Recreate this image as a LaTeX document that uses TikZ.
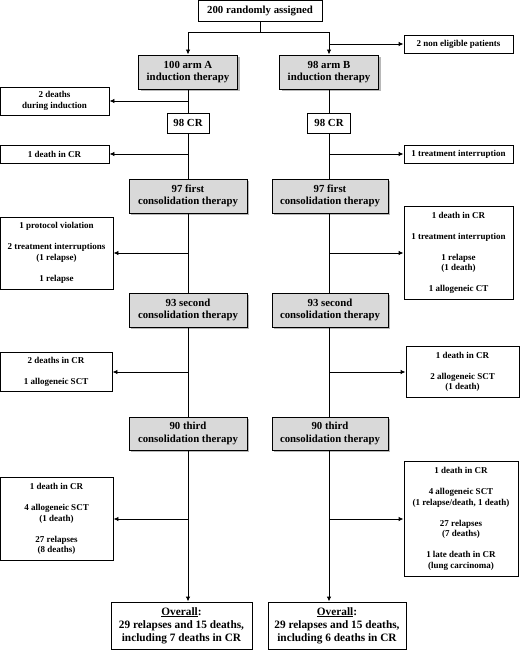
\documentclass[tikz,border=0pt]{standalone}
\usepackage{fontspec}
\setmainfont{Liberation Serif}
\usetikzlibrary{arrows.meta,shadows}
\begin{document}
\begin{tikzpicture}[x=1pt,y=-1pt,
  every node/.style={draw=black,line width=0.9pt,rectangle,inner sep=0pt,align=center,font=\bfseries},
  mainbox/.style={fill=black!15,drop shadow={shadow xshift=2pt,shadow yshift=-2pt,fill=black!35,opacity=0.8},
     font=\fontsize{10.8}{12.6}\selectfont\bfseries},
  sidebox/.style={fill=white,font=\fontsize{9}{10.5}\selectfont\bfseries},
  crbox/.style={fill=white,font=\fontsize{10.8}{12.6}\selectfont\bfseries},
  totbox/.style={fill=white,font=\fontsize{11.3}{13}\selectfont\bfseries},
  conn/.style={draw,line width=0.9pt},
  arr/.style={conn,-{Latex[length=5pt,width=4.5pt]}}]
\useasboundingbox (0,0) rectangle (520,650);
% top
\node[crbox,minimum width=124pt,minimum height=21pt] (top) at (260,10.5) {200 randomly assigned};
\node[mainbox,minimum width=99pt,minimum height=34pt] (armA) at (188,72) {100 arm A\\induction therapy};
\node[mainbox,minimum width=99pt,minimum height=34pt] (armB) at (329,72) {98 arm B\\induction therapy};
\node[sidebox,minimum width=109pt,minimum height=18pt] (nonel) at (458.5,44) {2 non eligible patients};
\node[sidebox,minimum width=109pt,minimum height=28pt] (dind) at (54.5,101) {2 deaths\\during induction};
\node[crbox,minimum width=42pt,minimum height=20pt] (crA) at (188,123) {98 CR};
\node[crbox,minimum width=43pt,minimum height=20pt] (crB) at (329,123) {98 CR};
\node[sidebox,minimum width=109pt,minimum height=18pt] (dcrA) at (54.5,154) {1 death in CR};
\node[sidebox,minimum width=109pt,minimum height=18pt] (tiB) at (458.5,154) {1 treatment interruption};
% first consolidation
\node[mainbox,minimum width=118pt,minimum height=34pt] (c1A) at (188,196) {97 first\\consolidation therapy};
\node[mainbox,minimum width=116pt,minimum height=34pt] (c1B) at (330,196) {97 first\\consolidation therapy};
\node[sidebox,minimum width=113pt,minimum height=72pt] (l1) at (56.5,253) {1 protocol violation\\[10.5pt]2 treatment interruptions\\(1 relapse)\\[10.5pt]1 relapse};
\node[sidebox,minimum width=109pt,minimum height=93pt] (r1) at (458.5,253) {1 death in CR\\[10.5pt]1 treatment interruption\\[10.5pt]1 relapse\\(1 death)\\[10.5pt]1 allogeneic CT};
% second
\node[mainbox,minimum width=118pt,minimum height=34pt] (c2A) at (188,310) {93 second\\consolidation therapy};
\node[mainbox,minimum width=116pt,minimum height=34pt] (c2B) at (330,310) {93 second\\consolidation therapy};
\node[sidebox,minimum width=112pt,minimum height=39pt] (l2) at (56,372) {2 deaths in CR\\[10.5pt]1 allogeneic SCT};
\node[sidebox,minimum width=113pt,minimum height=51pt] (r2) at (462.5,372) {1 death in CR\\[10.5pt]2 allogeneic SCT\\(1 death)};
% third
\node[mainbox,minimum width=118pt,minimum height=33pt] (c3A) at (188,433.5) {90 third\\consolidation therapy};
\node[mainbox,minimum width=116pt,minimum height=33pt] (c3B) at (330,433.5) {90 third\\consolidation therapy};
\node[sidebox,minimum width=113pt,minimum height=83pt] (l3) at (56.5,519) {1 death in CR\\[10.5pt]4 allogeneic SCT\\(1 death)\\[10.5pt]27 relapses\\(8 deaths)};
\node[sidebox,minimum width=114pt,minimum height=115pt] (r3) at (461,519) {1 death in CR\\[10.5pt]4 allogeneic SCT\\(1 relapse/death, 1 death)\\[10.5pt]27 relapses\\(7 deaths)\\[10.5pt]1 late death in CR\\(lung carcinoma)};
% overall
\node[totbox,minimum width=141pt,minimum height=47pt] (oA) at (181.5,625.5) {\underline{Overall}:\\29 relapses and 15 deaths,\\including 7 deaths in CR};
\node[totbox,minimum width=138pt,minimum height=47pt] (oB) at (337,625.5) {\underline{Overall}:\\29 relapses and 15 deaths,\\including 6 deaths in CR};
% connectors
\coordinate (split) at (260,32);
\draw[conn] (top.south) -- (split);
\draw[arr] (split) -| (armA.north);
\draw[arr] (split) -| (armB.north);
\draw[arr] (armB.north |- nonel.west) -- (nonel.west);
\draw[conn] (armA.south) -- (crA.north);
\draw[conn] (armB.south) -- (crB.north);
\draw[arr] (armA.south |- dind.east) -- (dind.east);
\draw[conn] (crA.south) -- (c1A.north);
\draw[conn] (crB.south) -- (crB.south |- c1B.north);
\draw[arr] (crA.south |- dcrA.east) -- (dcrA.east);
\draw[arr] (crB.south |- tiB.west) -- (tiB.west);
\draw[conn] (c1A.south) -- (c2A.north);
\draw[conn] (c1B.south -| crB.south) -- (c2B.north -| crB.south);
\draw[arr] (c1A.south |- l1.east) -- (l1.east);
\draw[arr] (crB.south |- r1.west) -- (r1.west);
\draw[conn] (c2A.south) -- (c3A.north);
\draw[conn] (c2B.south -| crB.south) -- (c3B.north -| crB.south);
\draw[arr] (c2A.south |- l2.east) -- (l2.east);
\draw[arr] (crB.south |- r2.west) -- (r2.west);
\draw[arr] (c3A.south) -- (c3A.south |- oA.north);
\draw[arr] (c3B.south -| crB.south) -- (crB.south |- oB.north);
\draw[arr] (c3A.south |- l3.east) -- (l3.east);
\draw[arr] (crB.south |- r3.west) -- (r3.west);
\end{tikzpicture}
\end{document}
